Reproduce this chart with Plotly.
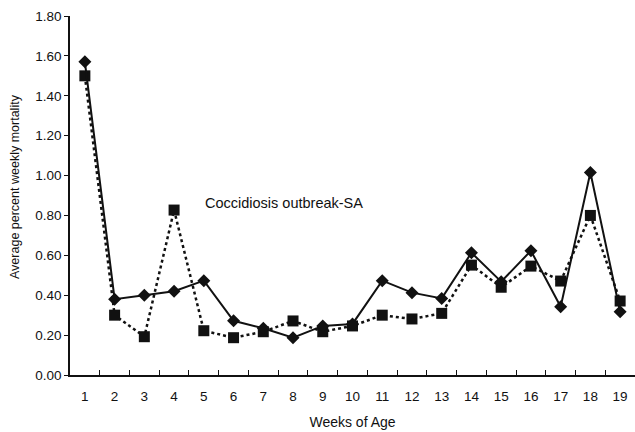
import plotly.graph_objects as go

weeks = [str(i) for i in range(1, 20)]
solid_diamond = [1.57, 0.38, 0.40, 0.42, 0.473, 0.272, 0.234, 0.187, 0.246, 0.256,
                 0.473, 0.413, 0.384, 0.613, 0.468, 0.623, 0.342, 1.015, 0.317]
dotted_square = [1.50, 0.30, 0.192, 0.827, 0.222, 0.187, 0.217, 0.271, 0.217, 0.246,
                 0.30, 0.281, 0.309, 0.551, 0.44, 0.546, 0.471, 0.80, 0.371]
y_ticks = [0, 0.2, 0.4, 0.6, 0.8, 1.0, 1.2, 1.4, 1.6, 1.8]

FONT = "Liberation Sans, Arial, sans-serif"

fig = go.Figure()
fig.add_trace(go.Scatter(x=weeks, y=dotted_square, mode="lines+markers",
                         line=dict(color="#111", width=2.5, dash="dot"),
                         marker=dict(symbol="square", size=11, color="#111")))
fig.add_trace(go.Scatter(x=weeks, y=solid_diamond, mode="lines+markers",
                         line=dict(color="#111", width=2),
                         marker=dict(symbol="diamond", size=10, color="#111")))

fig.add_annotation(text="Coccidiosis outbreak-SA", x=3.96, y=0.86, xref="x", yref="y",
                   xanchor="left", yanchor="middle", showarrow=False,
                   font=dict(family=FONT, size=14.5, color="#111"))

# y-axis title placed as rotated annotation
fig.add_annotation(text="Average percent weekly mortality", xref="paper", yref="paper",
                   x=(15 - 70) / 565, y=(375 - 187) / 359, textangle=-90,
                   xanchor="center", yanchor="middle", showarrow=False,
                   font=dict(family=FONT, size=12.5, color="#111"))

fig.update_layout(
    width=635, height=432,
    margin=dict(l=70, r=0, t=16, b=57),
    paper_bgcolor="white", plot_bgcolor="white",
    showlegend=False,
    font=dict(family=FONT, size=13, color="#111"),
    xaxis=dict(type="category", tickson="boundaries", ticks="inside", ticklen=5,
               tickcolor="#111", showline=True, linecolor="#111", linewidth=1.5,
               showgrid=False, zeroline=False, range=[-0.5, 18.5],
               ticklabelstandoff=8,
               title=dict(text="Weeks of Age", font=dict(size=14), standoff=14),
               tickfont=dict(size=13.5)),
    yaxis=dict(range=[0, 1.8], tickvals=y_ticks, tickformat=".2f", ticks="outside",
               ticklen=4, tickcolor="#111", showline=True, linecolor="#111",
               linewidth=1.5, showgrid=False, zeroline=False,
               tickfont=dict(size=13.5)),
)

fig.write_html("out.html")
